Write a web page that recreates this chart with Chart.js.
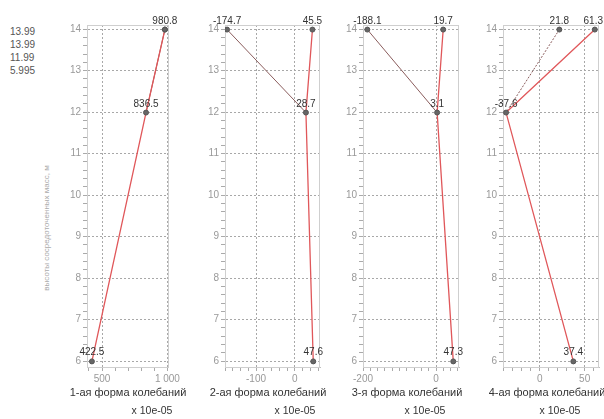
<!DOCTYPE html>
<html><head><meta charset="utf-8">
<script src="https://cdn.jsdelivr.net/npm/chart.js@4/dist/chart.umd.min.js"></script>
<style>
body{margin:0;width:604px;height:419px;background:#fff;position:relative;overflow:hidden;font-family:"Liberation Sans",Arial,sans-serif;}
canvas{position:absolute;top:0;}
.t{position:absolute;white-space:nowrap;line-height:1;}
.lg{font-size:10px;color:#555;}
.ttl{font-size:11px;color:#333;transform:translate(-50%,-50%);}
.mul{font-size:10.5px;color:#333;transform:translate(-50%,-50%);}
.yt{font-size:8px;color:#aaa;transform:translate(-50%,-50%) rotate(-90deg);}
</style></head><body>
<script>
// ---- data ----
const heights = [13.99, 13.99, 11.99, 5.995];
const heightLabels = ["13.99", "13.99", "11.99", "5.995"];
const modeTitles = ["1-ая форма колебаний", "2-ая форма колебаний", "3-я форма колебаний", "4-ая форма колебаний"];
const mode1 = [980.8, 980.8, 836.5, 422.5];
const mode2 = [-174.7, 45.5, 28.7, 47.6];
const mode3 = [-188.1, 19.7, 3.1, 47.3];
const mode4 = [21.8, 61.3, -37.6, 37.4];
const modes = [mode1, mode2, mode3, mode4];
const yTicks = [6, 7, 8, 9, 10, 11, 12, 13, 14];
const xTicks1 = [500, 1000];
const xTicks2 = [-100, 0];
const xTicks3 = [-200, 0];
const xTicks4 = [0, 50];
const xTicksAll = [xTicks1, xTicks2, xTicks3, xTicks4];
const xTickText1 = ["500", "1 000"];
const xTickText2 = ["-100", "0"];
const xTickText3 = ["-200", "0"];
const xTickText4 = ["0", "50"];
const xTickTextAll = [xTickText1, xTickText2, xTickText3, xTickText4];
const yAxisTitle = "высоты сосредоточенных масс, м";
const multiplier = "x 10e-05";

// ---- layout (styles) ----
const panels = [
  {plotL: 87, plotR: 180, xmin: 385, xmax: 1012, minor: 100, titleX: 128, mulX: 152},
  {plotL: 225, plotR: 323, xmin: -180, xmax: 65, minor: 20, titleX: 268, mulX: 295},
  {plotL: 363, plotR: 462, xmin: -200, xmax: 63, minor: 20, titleX: 407, mulX: 425},
  {plotL: 503, plotR: 602, xmin: -41, xmax: 66, minor: 10, titleX: 547, mulX: 560}
];
const PT = 25, PB = 367, YW = 30, H = 419;
const ymin = 5.86, ymax = 14.1;

function addText(cls, txt, x, y) {
  const d = document.createElement('div');
  d.className = 't ' + cls; d.textContent = txt;
  d.style.left = x + 'px'; d.style.top = y + 'px';
  document.body.appendChild(d);
}
heightLabels.forEach((s, i) => addText('lg', s, 10, 27 + i * 13));
addText('yt', yAxisTitle, 47, 228);

const boxPlugin = {
  id: 'box',
  beforeDatasetsDraw(chart) {
    const a = chart.chartArea, c = chart.ctx;
    c.save(); c.strokeStyle = '#cfcfcf'; c.lineWidth = 1;
    c.strokeRect(a.left + 0.5, a.top + 0.5, a.right - a.left - 1, a.bottom - a.top);
    c.restore();
  }
};
const labelPlugin = {
  id: 'vlabels',
  afterDatasetsDraw(chart, args, opts) {
    const c = chart.ctx, x = chart.scales.x, y = chart.scales.y;
    c.save();
    c.font = '10px "Liberation Sans", Arial, sans-serif';
    c.fillStyle = '#333'; c.textAlign = 'center'; c.textBaseline = 'alphabetic';
    const seen = new Set();
    opts.values.forEach((v, i) => {
      const px = x.getPixelForValue(v), py = y.getPixelForValue(heights[i]);
      const key = Math.round(px) + ',' + Math.round(py);
      if (seen.has(key)) return; seen.add(key);
      const s = String(v);
      const w = c.measureText(s).width;
      let cx = px;
      if (cx + w / 2 > chart.width - 1) cx = chart.width - 1 - w / 2;
      c.fillText(s, cx, py - 6);
    });
    c.restore();
  }
};

panels.forEach((p, k) => {
  const vals = modes[k];
  const cl = p.plotL - YW;
  const cw = p.plotR - cl + 2;
  const cv = document.createElement('canvas');
  cv.width = cw; cv.height = H;
  cv.style.left = cl + 'px'; cv.style.width = cw + 'px'; cv.style.height = H + 'px';
  document.body.appendChild(cv);
  addText('ttl', modeTitles[k], p.titleX, 392);
  addText('mul', multiplier, p.mulX, 410);

  const majors = xTicksAll[k];
  const isMajorX = v => majors.some(m => Math.abs(m - v) < 1e-6);
  const isMajorY = v => yTicks.some(m => Math.abs(m - v) < 1e-6);

  new Chart(cv, {
    type: 'scatter',
    data: {
      datasets: [
        {data: [{x: vals[0], y: heights[0]}, {x: vals[2], y: heights[2]}], showLine: true, order: 3,
         borderColor: '#8a5c5c', borderWidth: 1, pointRadius: 0, borderDash: k === 3 ? [2, 1.5] : []},
        {data: [{x: vals[1], y: heights[1]}, {x: vals[2], y: heights[2]}, {x: vals[3], y: heights[3]}], showLine: true, order: 2,
         borderColor: '#e0575a', borderWidth: 1.3, pointRadius: 0},
        {data: vals.map((v, i) => ({x: v, y: heights[i]})), showLine: false, order: 1,
         pointRadius: 2.5, pointBackgroundColor: '#666', pointBorderColor: '#555', pointBorderWidth: 1}
      ]
    },
    options: {
      responsive: false, animation: false, events: [],
      layout: {padding: {top: PT, right: 2, left: 0, bottom: 0}},
      plugins: {legend: {display: false}, tooltip: {enabled: false}, vlabels: {values: vals}},
      scales: {
        x: {
          type: 'linear', min: p.xmin, max: p.xmax,
          afterFit: s => { s.height = H - PB; },
          afterBuildTicks: s => {
            const t = [];
            const start = Math.ceil(p.xmin / p.minor) * p.minor;
            for (let v = start; v <= p.xmax + 1e-9; v += p.minor) t.push({value: Math.round(v * 1000) / 1000});
            s.ticks = t;
          },
          ticks: {
            autoSkip: false, maxRotation: 0, padding: 2, color: '#999',
            font: {size: 10, family: '"Liberation Sans", Arial, sans-serif'},
            callback: v => { const i = majors.findIndex(m => Math.abs(m - v) < 1e-6); return i >= 0 ? xTickTextAll[k][i] : ''; }
          },
          grid: {
            color: c => (c.tick && isMajorX(c.tick.value)) ? '#a8a8a8' : 'rgba(0,0,0,0)',
            tickColor: '#aaa', tickLength: 4, lineWidth: 1
          },
          border: {display: true, color: '#bdbdbd', dash: [2, 2]}
        },
        y: {
          type: 'linear', min: ymin, max: ymax,
          afterFit: s => { s.width = YW; },
          afterBuildTicks: s => {
            const t = [];
            for (let v = 6; v <= 14 + 1e-9; v += 0.2) t.push({value: Math.round(v * 10) / 10});
            s.ticks = t;
          },
          ticks: {
            autoSkip: false, padding: 2, color: '#999',
            font: {size: 10, family: '"Liberation Sans", Arial, sans-serif'},
            callback: v => isMajorY(v) ? String(v) : ''
          },
          grid: {
            color: c => (c.tick && isMajorY(c.tick.value)) ? '#a8a8a8' : 'rgba(0,0,0,0)',
            tickColor: '#aaa', tickLength: 4, lineWidth: 1
          },
          border: {display: true, color: '#bdbdbd', dash: [2, 2]}
        }
      }
    },
    plugins: [boxPlugin, labelPlugin]
  });
});
</script>
</body></html>
